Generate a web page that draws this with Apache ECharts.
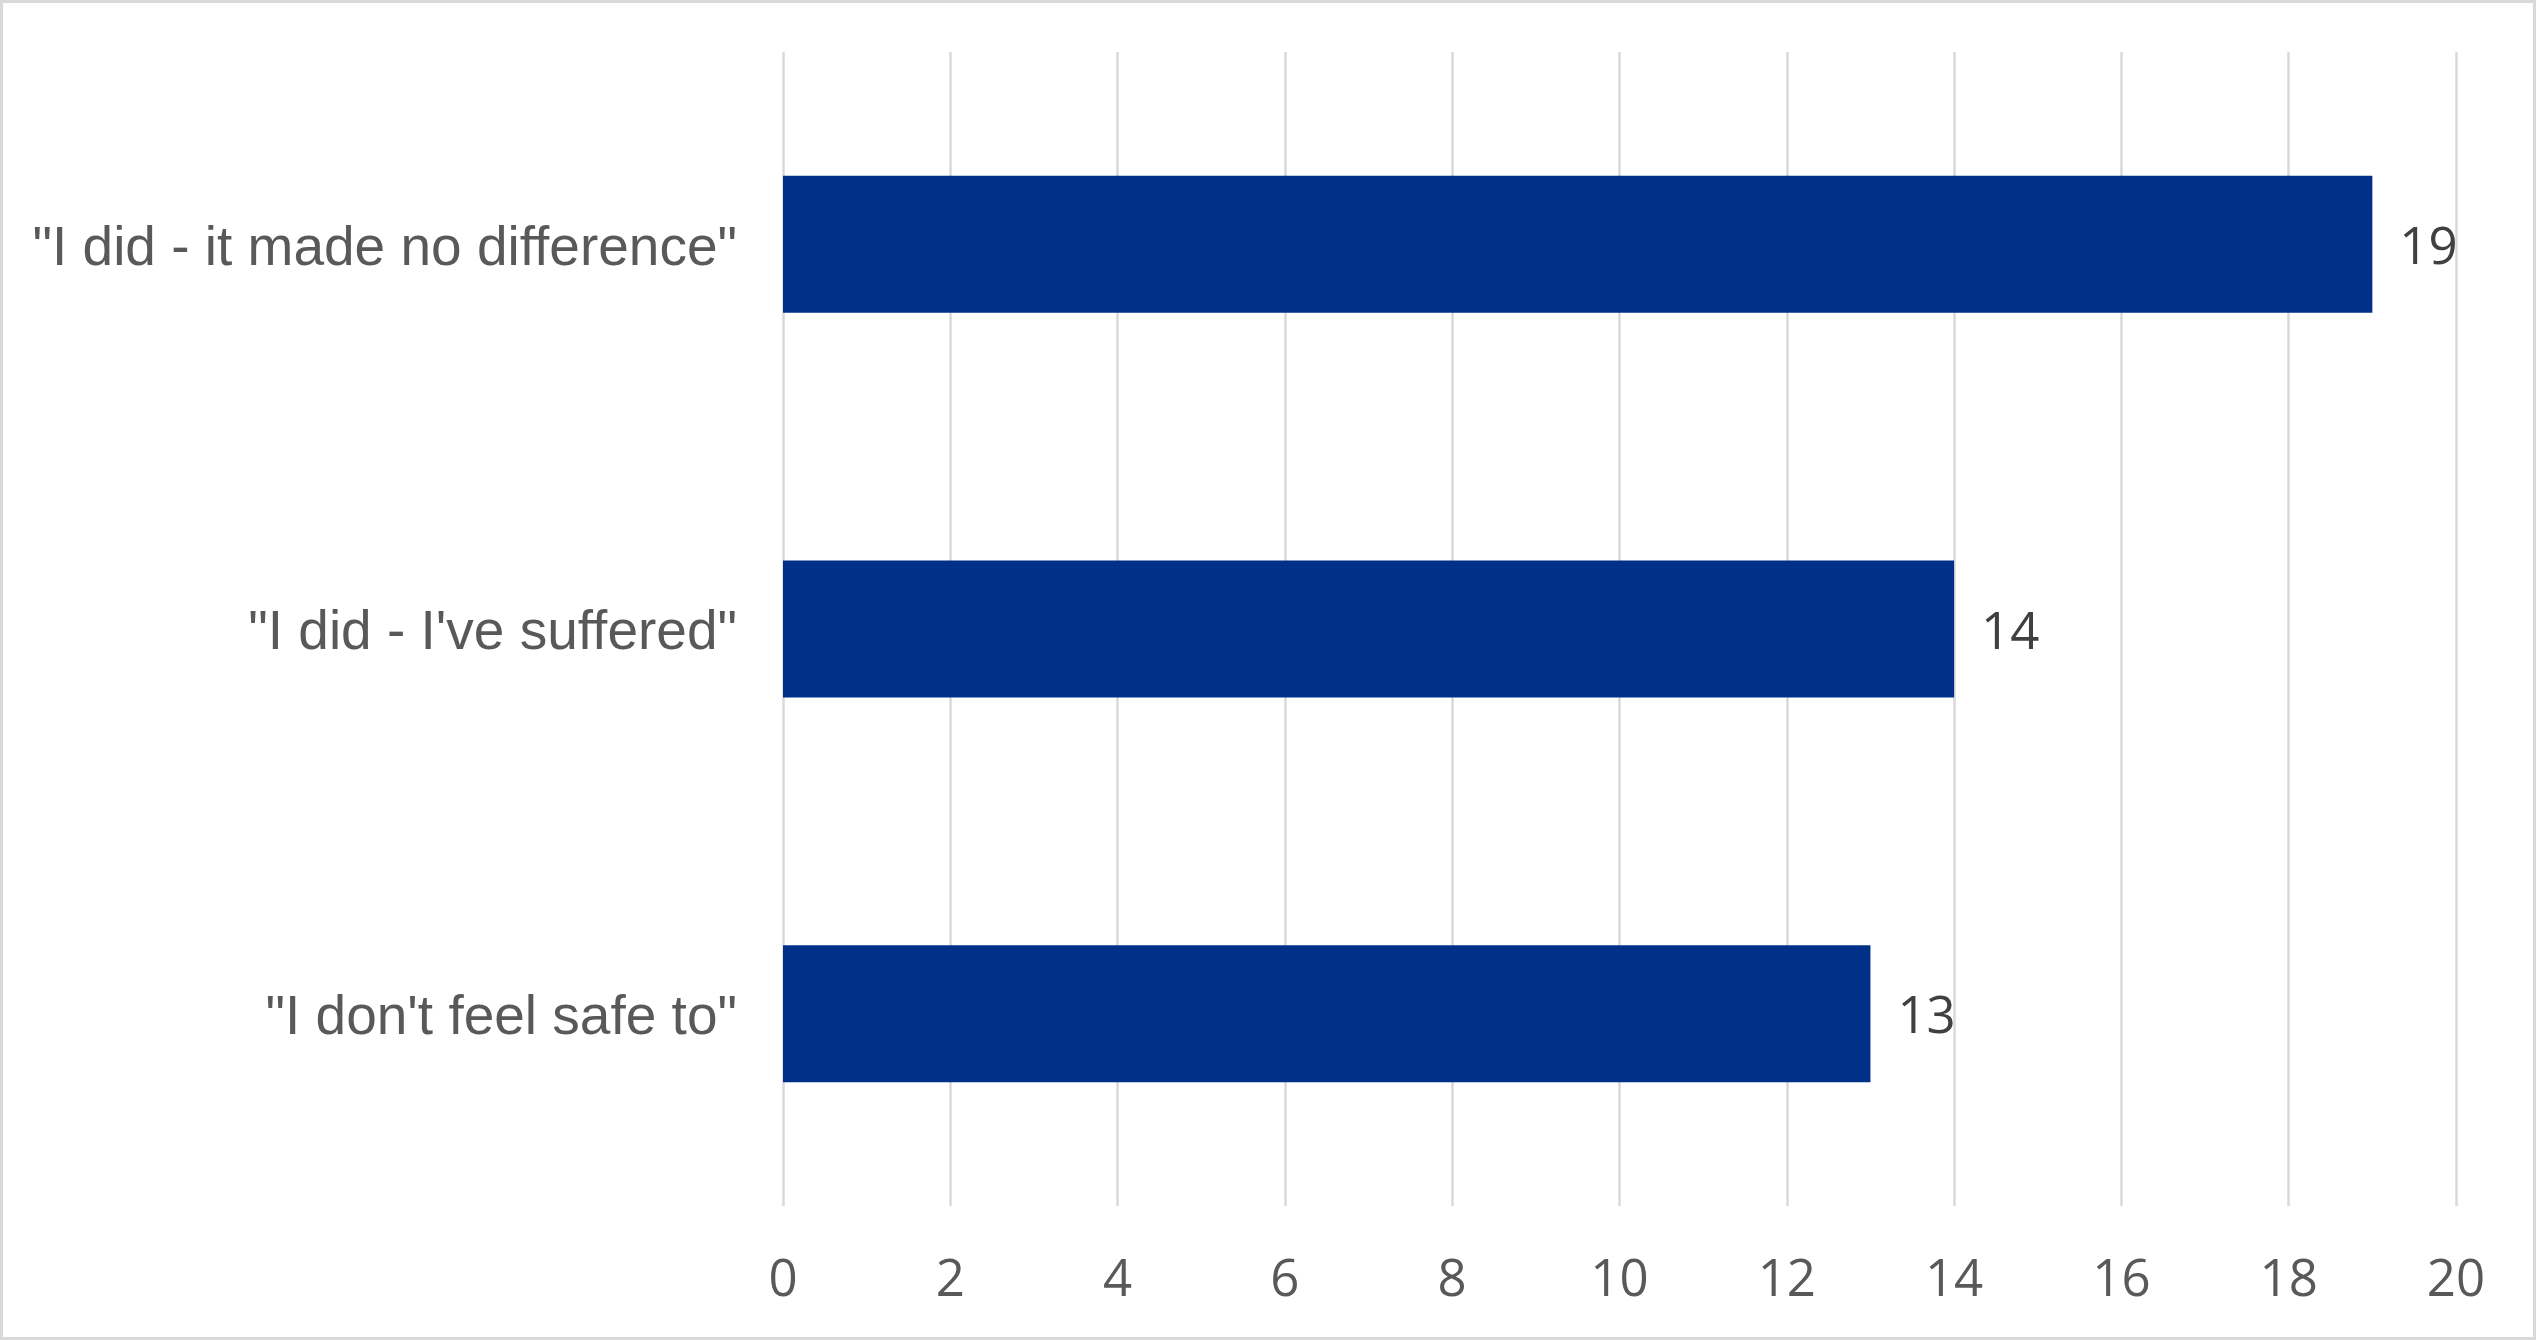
<!DOCTYPE html>
<html>
<head>
<meta charset="utf-8">
<script src="https://cdn.jsdelivr.net/npm/echarts@6/dist/echarts.min.js"></script>
<style>
  html, body { margin: 0; padding: 0; background: #fff; }
  #chart { width: 2536px; height: 1340px; box-sizing: border-box; border: 3px solid #d9d9d9; }
</style>
</head>
<body>
<div id="chart"></div>
<script>
// answers, top to bottom
var categories = ['"I did - it made no difference"', '"I did - I\'ve suffered"', '"I don\'t feel safe to"'];
var counts = [19, 14, 13];
var xTicks = [0, 2, 4, 6, 8, 10, 12, 14, 16, 18, 20];

var chart = echarts.init(document.getElementById('chart'));

var option = {};
option['backgroundColor'] = '#fff';
option['animation'] = false;

option['grid'] = {
    left: 780,
    right: 77,
    top: 49,
    bottom: 131,
    containLabel: false
};

option['xAxis'] = {
    type: 'value',
    min: xTicks[0],
    max: xTicks[xTicks.length - 1],
    interval: 2,
    axisLine: { show: false },
    axisTick: { show: false },
    splitLine: { show: true, lineStyle: { color: '#d9d9d9', width: 2.5 } },
    axisLabel: {
        color: '#595959',
        fontFamily: 'Open Sans',
        fontSize: 51,
        margin: 50
    }
};

option['yAxis'] = {
    type: 'category',
    data: categories,
    inverse: true,
    axisLine: { show: false },
    axisTick: { show: false },
    splitLine: { show: false },
    axisLabel: {
        margin: 46,
        formatter: function (v) { return '{c|' + v + '}'; },
        rich: {
            c: {
                color: '#595959',
                fontFamily: 'Liberation Sans',
                fontSize: 55,
                padding: [10, 0, 0, 0]
            }
        }
    }
};

option['series'] = [{
    name: 'count',
    type: 'bar',
    data: counts,
    barWidth: 137,
    itemStyle: { color: '#003087' },
    label: {
        show: true,
        position: 'right',
        distance: 27,
        offset: [0, 5],
        color: '#404040',
        fontFamily: 'Open Sans',
        fontSize: 51
    }
}];

chart.setOption(option);
</script>
</body>
</html>
